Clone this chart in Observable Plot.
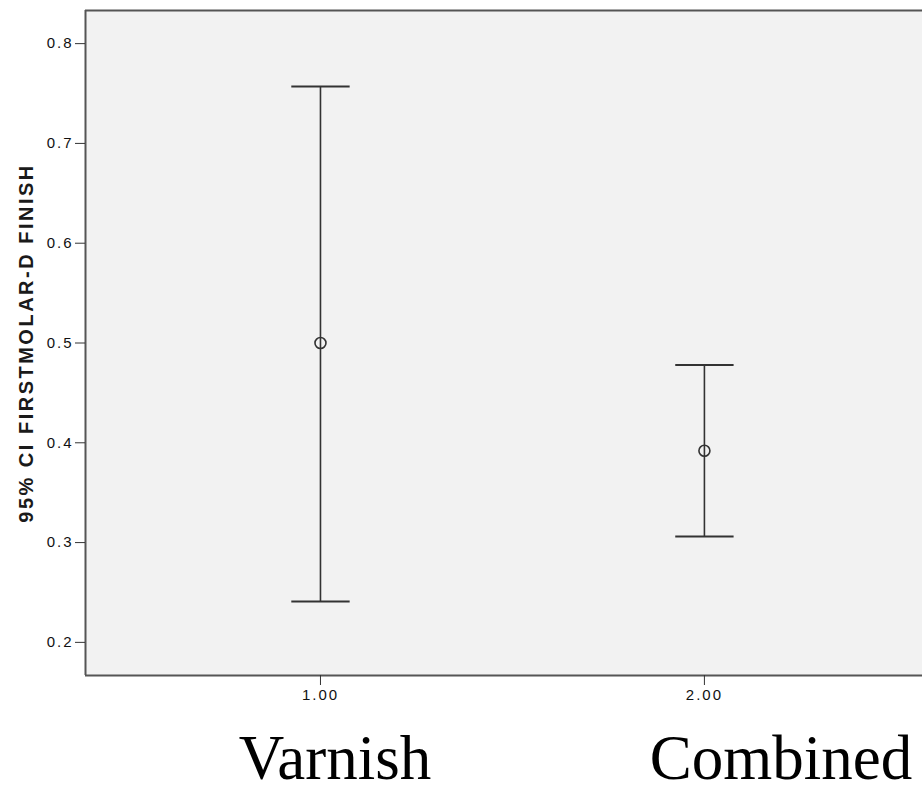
<!DOCTYPE html>
<html>
<head>
<meta charset="utf-8">
<script src="https://cdn.jsdelivr.net/npm/d3@7"></script>
<script src="https://cdn.jsdelivr.net/npm/@observablehq/plot@0.6"></script>
<style>
  html, body { margin: 0; padding: 0; background: #fff; }
  #wrap { position: relative; width: 922px; height: 794px; overflow: hidden; }
  .cat { position: absolute; font-family: "Liberation Serif", "Times New Roman", serif; font-size: 63px; color: #000; line-height: 70px; height: 70px; white-space: nowrap; }
</style>
</head>
<body>
<div id="wrap"></div>
<script>
// Data
const groups = [1, 2];
const groupNames = ["Varnish", "Combined"];
const means = [0.500, 0.392];
const lower = [0.241, 0.306];
const upper = [0.757, 0.478];
const yTicks = [0.2, 0.3, 0.4, 0.5, 0.6, 0.7, 0.8];
const xTicks = [1, 2];
const yLabel = "95% CI FIRSTMOLAR-D FINISH";

const data = groups.map((g, i) => ({g, name: groupNames[i], mean: means[i], lo: lower[i], hi: upper[i]}));

const xDomain = [0.388, 2.568];
const yDomain = [0.1668, 0.8332];
const capHalf = 0.076;
const ink = "#333";

const chart = Plot.plot({
  width: 922,
  height: 720,
  marginTop: 10,
  marginLeft: 85,
  marginRight: 0,
  marginBottom: 45,
  style: {fontFamily: "Liberation Sans, Arial, sans-serif", background: "#fff", overflow: "visible"},
  x: {domain: xDomain},
  y: {domain: yDomain},
  marks: [
    Plot.frame({fill: "#f2f2f2", stroke: null}),
    Plot.ruleX([xDomain[0]], {stroke: "#555", strokeWidth: 2}),
    Plot.ruleY([yDomain[0], yDomain[1]], {stroke: "#555", strokeWidth: 2}),
    Plot.axisY({ticks: yTicks, tickFormat: d3.format(".1f"), tickSize: 10, tickPadding: 2, fontSize: 15, stroke: ink, color: "#111",
      label: null}),
    Plot.axisX({ticks: xTicks, tickFormat: d3.format(".2f"), tickSize: 10, tickPadding: 4, fontSize: 15, stroke: ink, color: "#111", label: null}),
    Plot.ruleX(data, {x: "g", y1: "lo", y2: "hi", stroke: ink, strokeWidth: 1.6}),
    Plot.link(data, {x1: d => d.g - capHalf, x2: d => d.g + capHalf, y1: "hi", y2: "hi", stroke: ink, strokeWidth: 2}),
    Plot.link(data, {x1: d => d.g - capHalf, x2: d => d.g + capHalf, y1: "lo", y2: "lo", stroke: ink, strokeWidth: 2}),
    Plot.dot(data, {x: "g", y: "mean", r: 5.5, stroke: ink, strokeWidth: 1.6, fill: "none"}),
    Plot.text([yLabel], {frameAnchor: "left", textAnchor: "middle", dx: -59, rotate: -90, fontSize: 20, fontWeight: "bold", fill: "#1a1a1a", text: d => d})
  ]
});

chart.querySelectorAll("g[aria-label='y-axis tick label'] text, g[aria-label='x-axis tick label'] text").forEach(t => t.setAttribute("letter-spacing", "2"));
chart.querySelectorAll("g[aria-label='text'] text").forEach(t => t.setAttribute("letter-spacing", "2.5"));

const wrap = document.getElementById("wrap");
wrap.appendChild(chart);

// category labels below the chart
const centers = [335, 781];
groupNames.forEach((n, i) => {
  const d = document.createElement("div");
  d.className = "cat";
  d.textContent = n;
  wrap.appendChild(d);
  const w = d.getBoundingClientRect().width;
  d.style.left = (centers[i] - w / 2) + "px";
  d.style.top = "723px";
});
</script>
</body>
</html>
